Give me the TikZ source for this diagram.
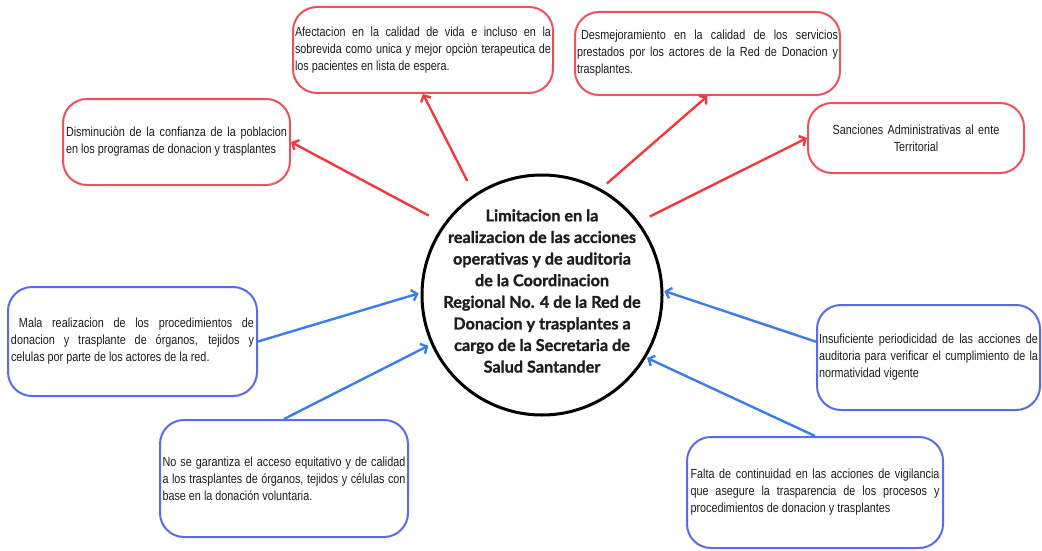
\documentclass[tikz,border=0pt]{standalone}
\usepackage{fontspec}
\usetikzlibrary{arrows.meta,calc}
\newfontfamily\nfont[FakeStretch=0.82]{Liberation Sans}
\newfontfamily\cfont[BoldFeatures={FakeBold=1.3}]{Lato}
\definecolor{boxred}{HTML}{EA525C}
\definecolor{arrred}{HTML}{F03A3E}
\definecolor{boxblue}{HTML}{5A6BE6}
\definecolor{arrblue}{HTML}{3B7DE9}
\definecolor{txt}{HTML}{1E1E1E}
\begin{document}
\begin{tikzpicture}[x=1pt,y=-1pt,
 card/.style={draw, line width=2pt, rounded corners=24pt, inner sep=0pt,
   font=\nfont\fontsize{13.2}{17}\selectfont, text=txt, align=justify},
 redcard/.style={card, draw=boxred},
 bluecard/.style={card, draw=boxblue},
 redarrow/.style={draw=arrred, line width=2.4pt, -{Straight Barb[length=5pt,width=11pt]}},
 bluearrow/.style={draw=arrblue, line width=2.4pt, -{Straight Barb[length=5pt,width=11pt]}},
]
\useasboundingbox (0,0) rectangle (1042,551);
\fill[white] (0,0) rectangle (1042,551);

\node[draw=black, line width=3pt, circle, minimum size=240pt, inner sep=0pt] (c) at (542,295) {};
\node[align=center, inner sep=0pt,
  font=\cfont\bfseries\fontsize{16.2}{21.6}\selectfont, text=txt] (ctitle) at (542,291)
  {Limitacion en la\\realizacion de las acciones\\operativas y de auditoria\\de la Coordinacion\\Regional No. 4 de la Red de\\Donacion y trasplantes a\\cargo de la Secretaria de\\Salud Santander};

\node[redcard, minimum width=260pt, minimum height=86pt, text width=256pt] (afec) at (423,50)
  {Afectacion en la calidad de vida e incluso en la\linebreak sobrevida como unica y mejor opciòn terapeutica de\linebreak los pacientes en lista de espera.};
\node[redcard, minimum width=265pt, minimum height=83pt, text width=261pt] (desm) at (707.5,53.5)
  {\hspace*{4pt}Desmejoramiento en la calidad de los servicios\linebreak prestados por los actores de la Red de Donacion y\linebreak trasplantes.};
\node[redcard, minimum width=227pt, minimum height=86pt, text width=221pt] (dism) at (176.5,142)
  {Disminuciòn de la confianza de la poblacion\linebreak en los programas de donacion y trasplantes};
\node[redcard, minimum width=216pt, minimum height=70pt, text width=200pt, align=center] (sanc) at (916,138)
  {Sanciones Administrativas al ente\\Territorial};

\node[bluecard, minimum width=249pt, minimum height=109pt, text width=243pt] (mala) at (132.5,341.5)
  {\hspace*{8pt}Mala realizacion de los procedimientos de\linebreak donacion y trasplante de órganos, tejidos y\linebreak celulas por parte de los actores de la red.};
\node[bluecard, minimum width=248pt, minimum height=117pt, text width=243pt] (nose) at (284,478.5)
  {No se garantiza el acceso equitativo y de calidad\linebreak a los trasplantes de órganos, tejidos y células con\linebreak base en la donación voluntaria.};
\node[bluecard, minimum width=223pt, minimum height=105pt, text width=219pt] (insuf) at (928.5,357.5)
  {Insuficiente periodicidad de las acciones de\linebreak auditoria para verificar el cumplimiento de la\linebreak normatividad vigente};
\node[bluecard, minimum width=256pt, minimum height=111pt, text width=249pt] (falta) at (815,492.5)
  {Falta de continuidad en las acciones de vigilancia\linebreak que asegure la trasparencia de los procesos y\linebreak procedimientos de donacion y trasplantes};

\draw[redarrow, shorten <=17pt] (c.144) -- (dism.east);
\draw[redarrow, shorten <=15pt] (c.124) -- (afec.south);
\draw[redarrow, shorten <=8pt] (c.61) -- (desm.south);
\draw[redarrow, shorten <=12pt] (c.37) -- (sanc.west);

\draw[bluearrow, shorten >=2pt] (mala.east) -- (c.179);
\draw[bluearrow, shorten >=3pt] (nose.north) -- (c.204);
\draw[bluearrow, shorten >=1pt] (insuf.172) -- (c.2);
\draw[bluearrow, shorten >=1pt] (falta.north) -- (c.-31);
\end{tikzpicture}
\end{document}
